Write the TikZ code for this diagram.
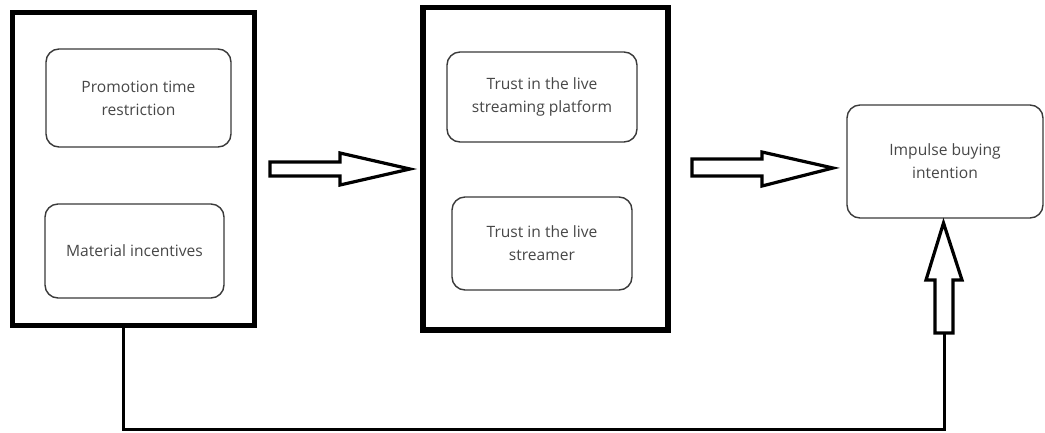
\documentclass[tikz,border=0pt]{standalone}
\usepackage{fontspec}
\setmainfont{Open Sans}
\usetikzlibrary{calc}
\definecolor{txt}{HTML}{474747}
\definecolor{edge}{HTML}{3A3A3A}
\tikzset{
  frame/.style={draw=black, line width=5.5pt, inner sep=0pt, fill=white},
  factor/.style={draw=edge, line width=1.4pt, rounded corners=13pt, inner sep=0pt,
    align=center, text=txt, font=\fontsize{15.6}{23}\selectfont},
  bigarrow/.style={draw=black, line width=3.2pt, line join=miter, fill=white},
  feedback/.style={draw=black, line width=3pt}
}
\begin{document}
\begin{tikzpicture}[x=1pt,y=-1pt]
\useasboundingbox (0,0) rectangle (1045,432);

% stage frames
\node[frame, minimum width=242pt, minimum height=313pt] (stim) at (133.5,169) {};
\node[frame, minimum width=245pt, minimum height=322.5pt] (org) at (545.5,168.75) {};

% stimulus factors
\node[factor, minimum width=185pt, minimum height=98pt] (promo) at (138.5,98)
  {Promotion time\\restriction};
\node[factor, minimum width=179pt, minimum height=94pt] (incent) at (134.5,251)
  {Material incentives};

% organism factors
\node[factor, minimum width=190pt, minimum height=90pt] (platform) at (542,97)
  {Trust in the live\\streaming platform};
\node[factor, minimum width=180pt, minimum height=93pt] (streamer) at (542,243.5)
  {Trust in the live\\streamer};

% response
\node[factor, minimum width=196pt, minimum height=113pt] (impulse) at (945,161.5)
  {Impulse buying\\intention};

% block arrows between the stages
\draw[bigarrow] (270,162) -- (340,162) -- (340,153) -- (410,169) -- (340,185)
  -- (340,176) -- (270,176) -- cycle;
\draw[bigarrow] (692,159) -- (762,159) -- (762,152) -- (833,168) -- (762,186)
  -- (762,176) -- (692,176) -- cycle;

% direct path from the stimulus frame to the response
\coordinate (upbase) at (944,333);
\draw[bigarrow] (935,333) -- (935,280) -- (926,280) -- (943.5,223) -- (962,280)
  -- (953,280) -- (953,333) -- cycle;
\draw[feedback] (stim.south -| 123.5,0) -- (123.5,429) -- (upbase |- 0,429) -- (upbase);
\end{tikzpicture}
\end{document}
